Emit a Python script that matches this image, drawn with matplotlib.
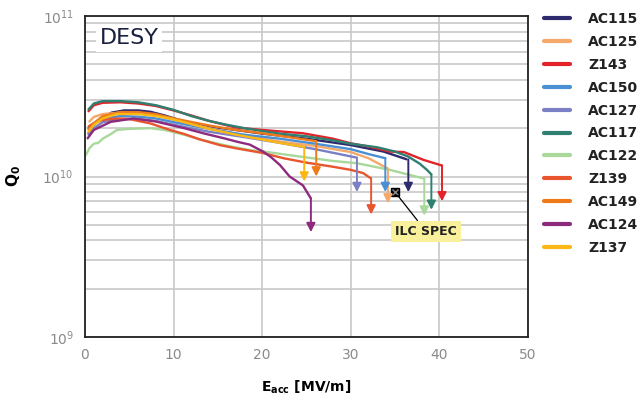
import numpy as np
import matplotlib
matplotlib.use("Agg")
import matplotlib.pyplot as plt

# cavity names, legend order
names = ["AC115", "AC125", "Z143", "AC150", "AC127", "AC117",
         "AC122", "Z139", "AC149", "AC124", "Z137"]
colors = ["#2e2a6e", "#f4a96a", "#e3232a", "#4a8fd4", "#7b7fc4", "#2f8070",
          "#a8d89a", "#e8552f", "#ee7a1a", "#8e2a7e", "#fbb814"]

# Q0 curves, Q in units of 1e10
e_ac115 = [0.4, 1, 2, 3, 4.4, 6, 7.4, 9, 11.2, 14, 17, 20, 25, 30, 33.7, 36.3]
q_ac115 = [1.86, 2.1, 2.35, 2.5, 2.58, 2.58, 2.53, 2.4, 2.2, 2.05, 1.95, 1.85, 1.72, 1.57, 1.43, 1.28]

e_ac125 = [0.5, 1, 2, 4, 6, 8, 10, 14, 18, 22, 26, 30, 32, 34.2]
q_ac125 = [2.2, 2.35, 2.45, 2.5, 2.48, 2.4, 2.25, 2.0, 1.8, 1.65, 1.55, 1.42, 1.3, 1.12]

e_z143 = [0.4, 1, 2, 4, 6, 8, 10, 12, 14, 17, 20, 24.6, 28, 30, 32.2, 34.4, 36, 38.2, 40.3]
q_z143 = [2.55, 2.78, 2.88, 2.9, 2.85, 2.75, 2.58, 2.4, 2.22, 2.02, 1.95, 1.86, 1.72, 1.61, 1.53, 1.43, 1.42, 1.27, 1.17]

e_ac150 = [0.4, 1, 2, 4, 6, 8, 10, 14, 18, 22, 26, 30, 32, 33.9]
q_ac150 = [2.0, 2.15, 2.3, 2.38, 2.36, 2.3, 2.18, 1.98, 1.82, 1.72, 1.6, 1.48, 1.38, 1.3]

e_ac127 = [0.4, 1, 2, 4, 6, 8, 10, 14, 18, 22, 26, 30.7]
q_ac127 = [1.82, 2.0, 2.18, 2.28, 2.28, 2.22, 2.1, 1.9, 1.76, 1.62, 1.48, 1.31]

e_ac117 = [0.4, 1, 2, 4, 6, 8, 10, 12, 14, 16, 18, 20, 22, 25, 28, 30, 33, 35, 36.5, 37.8, 38.6, 39.1]
q_ac117 = [2.62, 2.85, 2.95, 2.95, 2.9, 2.78, 2.6, 2.38, 2.22, 2.1, 2.0, 1.92, 1.85, 1.78, 1.68, 1.6, 1.52, 1.43, 1.33, 1.2, 1.1, 1.03]

e_ac122 = [0.1, 0.5, 1.0, 1.5, 2.0, 3.0, 3.6, 5, 7.4, 9, 11.2, 13, 15.7, 18.6, 20.2, 24.3, 28, 30.7, 34.4, 38.3]
q_ac122 = [1.36, 1.5, 1.6, 1.62, 1.72, 1.85, 1.95, 1.98, 2.0, 1.95, 1.82, 1.7, 1.57, 1.46, 1.43, 1.33, 1.25, 1.21, 1.1, 0.97]

e_z139 = [0.4, 1, 2, 3.6, 5, 7.4, 9.6, 11.2, 13, 15.2, 17, 20.1, 22.4, 25, 28, 30, 31.4, 32.2]
q_z139 = [2.05, 2.15, 2.25, 2.3, 2.28, 2.14, 1.95, 1.84, 1.7, 1.57, 1.5, 1.4, 1.3, 1.22, 1.15, 1.1, 1.05, 0.98]

e_ac149 = [0.4, 1, 2, 4, 6, 8, 10, 14, 17, 20, 23, 26.1]
q_ac149 = [1.95, 2.15, 2.38, 2.52, 2.52, 2.45, 2.3, 2.08, 1.95, 1.86, 1.76, 1.66]

e_ac124 = [0.3, 1, 2.9, 5.5, 8, 11.2, 13.5, 15.7, 17.1, 18.6, 20.1, 21, 22, 23.1, 24.6, 25.5]
q_ac124 = [1.73, 1.95, 2.19, 2.3, 2.2, 2.0, 1.85, 1.73, 1.65, 1.58, 1.43, 1.32, 1.18, 1.0, 0.88, 0.73]

e_z137 = [0.4, 1, 2, 3.6, 6, 8, 9.6, 12, 14, 17.1, 20, 22, 24.7]
q_z137 = [1.9, 2.1, 2.3, 2.45, 2.45, 2.38, 2.3, 2.12, 1.98, 1.82, 1.7, 1.62, 1.53]

curves_e = [e_ac115, e_ac125, e_z143, e_ac150, e_ac127, e_ac117,
            e_ac122, e_z139, e_ac149, e_ac124, e_z137]
curves_q = [q_ac115, q_ac125, q_z143, q_ac150, q_ac127, q_ac117,
            q_ac122, q_z139, q_ac149, q_ac124, q_z137]

# quench arrows: field, start Q, tip Q (1e10)
arrow_e = [36.5, 34.2, 40.3, 33.9, 30.7, 39.1, 38.3, 32.3, 26.1, 25.5, 24.75]
arrow_top = [1.28, 1.12, 1.17, 1.3, 1.31, 1.03, 0.97, 0.98, 1.66, 0.73, 1.53]
arrow_tip = [0.80, 0.68, 0.70, 0.80, 0.80, 0.62, 0.57, 0.58, 1.00, 0.45, 0.93]

ilc_e, ilc_q = 35, 0.8

fig = plt.figure(figsize=(6.41, 4.0), dpi=100)
ax = fig.add_axes([0.1326, 0.1575, 0.691, 0.8025])

for e, q, c, n in zip(curves_e, curves_q, colors, names):
    ax.plot(e, np.array(q) * 1e10, color=c, lw=1.7, label=n, solid_capstyle="round")

for x, top, tip, c in zip(arrow_e, arrow_top, arrow_tip, colors):
    ax.annotate("", xy=(x, tip * 1e10), xytext=(x, top * 1e10),
                arrowprops=dict(arrowstyle="-|>", color=c, lw=1.4,
                                mutation_scale=13, shrinkA=0, shrinkB=0))

ax.plot([ilc_e], [ilc_q * 1e10], marker="s", color="k", ms=6, ls="none")
ax.plot([ilc_e], [ilc_q * 1e10], marker="x", color="#888888", ms=4, ls="none")
ax.annotate("ILC SPEC", xy=(ilc_e, ilc_q * 1e10), xytext=(38.5, 4.55e9),
            ha="center", va="center", fontsize=9, fontweight="bold", color="#222222",
            bbox=dict(boxstyle="square,pad=0.35", fc="#f8f09a", ec="none"),
            arrowprops=dict(arrowstyle="-", color="k", lw=0.9, shrinkA=0, shrinkB=3))

ax.set_yscale("log")
ax.set_xlim(0, 50)
ax.set_ylim(1e9, 1e11)
ax.set_xticks([0, 10, 20, 30, 40, 50])
ax.grid(True, which="major", axis="x", color="#c8c8c8", lw=1.2)
ax.grid(True, which="both", axis="y", color="#c8c8c8", lw=1.2)
ax.set_axisbelow(True)
ax.tick_params(which="both", length=0, colors="#8a8a8a", labelsize=10, pad=8)
for s in ax.spines.values():
    s.set_color("#222222")
    s.set_linewidth(1.3)

ax.text(0.1, 0.93, "DESY", transform=ax.transAxes, ha="center", va="center",
        fontsize=16, color="#1a2040",
        bbox=dict(boxstyle="square,pad=0.15", fc="white", ec="none"))

ax.set_xlabel(r"$\mathbf{E_{acc}}$ [MV/m]", fontsize=10, fontweight="bold", labelpad=12)
ax.set_ylabel(r"$\mathbf{Q_0}$", fontsize=11, fontweight="bold", labelpad=14)

handles, labels = ax.get_legend_handles_labels()
leg = fig.legend(handles, labels, loc="upper left", bbox_to_anchor=(0.849, 0.97),
                 frameon=False, fontsize=10, handlelength=1.87, handletextpad=1.3,
                 labelspacing=0.64, borderpad=0, borderaxespad=0)
for line in leg.get_lines():
    line.set_linewidth(3)
for t in leg.get_texts():
    t.set_fontweight("bold")
    t.set_color("#222222")

fig.savefig("out.png", dpi=100)
